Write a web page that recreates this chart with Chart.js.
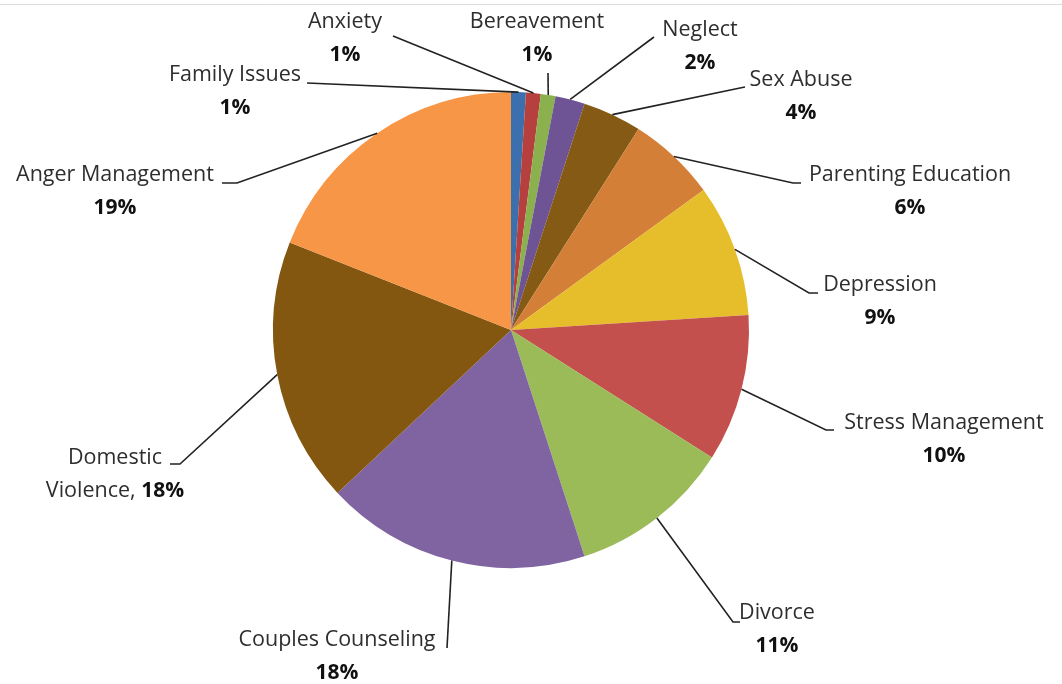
<!DOCTYPE html>
<html>
<head>
<meta charset="utf-8">
<script src="https://cdn.jsdelivr.net/npm/chart.js@4.4.0/dist/chart.umd.min.js"></script>
<style>
  body { margin: 0; background: #fff; }
  #wrap { width: 1062px; height: 684px; position: relative; }
</style>
</head>
<body>
<div id="wrap"><canvas id="myChart"></canvas></div>
<script>
// data, clockwise from 12 o'clock
const categories = ['Family Issues', 'Anxiety', 'Bereavement', 'Neglect', 'Sex Abuse', 'Parenting Education',
  'Depression', 'Stress Management', 'Divorce', 'Couples Counseling', 'Domestic Violence', 'Anger Management'];
const shares = [1, 1, 1, 2, 4, 6, 9, 10, 11, 18, 18, 19];
const sliceColors = ['#3B6FAE', '#B5403D', '#8BB04E', '#6E5494', '#845A14', '#D47F38',
  '#E6BE2B', '#C3504D', '#9BBB59', '#7F64A1', '#83570F', '#F79646'];

// where each label sits (text centre) and the elbow of its leader line
const labelPlace = [
  { x: 235, y: 75, from: [307, 83], elbow: null },
  { x: 345, y: 22, from: [393, 36], elbow: null },
  { x: 537, y: 22, from: [548, 73], elbow: null },
  { x: 700, y: 30, from: [654, 37], elbow: null },
  { x: 801, y: 80, from: [745, 87], elbow: [740, 88] },
  { x: 910, y: 175, from: [801, 183], elbow: [793, 183] },
  { x: 880, y: 285, from: [818, 293], elbow: [809, 293] },
  { x: 944, y: 423, from: [834, 430], elbow: [826, 430] },
  { x: 777, y: 613, from: [740, 622], elbow: [733, 622] },
  { x: 337, y: 640, from: [447, 648], elbow: null },
  { x: 115, y: 458, from: [170, 464], elbow: [180, 464] },
  { x: 115, y: 175, from: [222, 183], elbow: [237, 183] }
];

const nameFont = '21.5px "Open Sans", sans-serif';
const pctFont = 'bold 21px "Open Sans", sans-serif';

// leader lines and labels
const pieLabels = {
  id: 'pieLabels',
  afterDraw(chart) {
    const c = chart.ctx;
    const arcs = chart.getDatasetMeta(0).data;
    c.save();
    // thin frame line at the top of the picture
    c.strokeStyle = '#dcdcdc';
    c.lineWidth = 1;
    c.beginPath(); c.moveTo(0, 4.5); c.lineTo(1062, 4.5); c.stroke();

    arcs.forEach((a, i) => {
      const p = labelPlace[i];
      const mid = (a.startAngle + a.endAngle) / 2;
      const ax = a.x + Math.cos(mid) * a.outerRadius;
      const ay = a.y + Math.sin(mid) * a.outerRadius;
      c.strokeStyle = '#222';
      c.lineWidth = 1.6;
      c.beginPath();
      c.moveTo(p.from[0], p.from[1]);
      if (p.elbow) c.lineTo(p.elbow[0], p.elbow[1]);
      c.lineTo(ax, ay);
      c.stroke();

      c.textAlign = 'center';
      c.textBaseline = 'middle';
      const pct = shares[i] + '%';
      if (categories[i] === 'Domestic Violence') {
        c.fillStyle = '#2e2e2e';
        c.font = nameFont;
        c.fillText('Domestic', p.x, p.y);
        const w1 = c.measureText('Violence, ').width;
        c.font = pctFont;
        const w2 = c.measureText(pct).width;
        const left = p.x - (w1 + w2) / 2;
        c.textAlign = 'left';
        c.font = nameFont;
        c.fillText('Violence, ', left, p.y + 33);
        c.font = pctFont;
        c.fillStyle = '#111';
        c.fillText(pct, left + w1, p.y + 33);
      } else {
        c.fillStyle = '#2e2e2e';
        c.font = nameFont;
        c.fillText(categories[i], p.x, p.y);
        c.font = pctFont;
        c.fillStyle = '#111';
        c.fillText(pct, p.x, p.y + 33);
      }
    });
    c.restore();
  }
};

const ctx = document.getElementById('myChart');
const myChart = new Chart(ctx, {
  type: 'pie',
  data: {
    labels: categories,
    datasets: [{
      data: shares,
      backgroundColor: sliceColors,
      borderWidth: 0
    }]
  },
  options: {
    responsive: true,
    maintainAspectRatio: false,
    animation: false,
    layout: { padding: { top: 92, bottom: 116, left: 273, right: 313 } },
    plugins: {
      legend: { display: false },
      tooltip: { enabled: false }
    }
  },
  plugins: [pieLabels]
});
</script>
</body>
</html>
